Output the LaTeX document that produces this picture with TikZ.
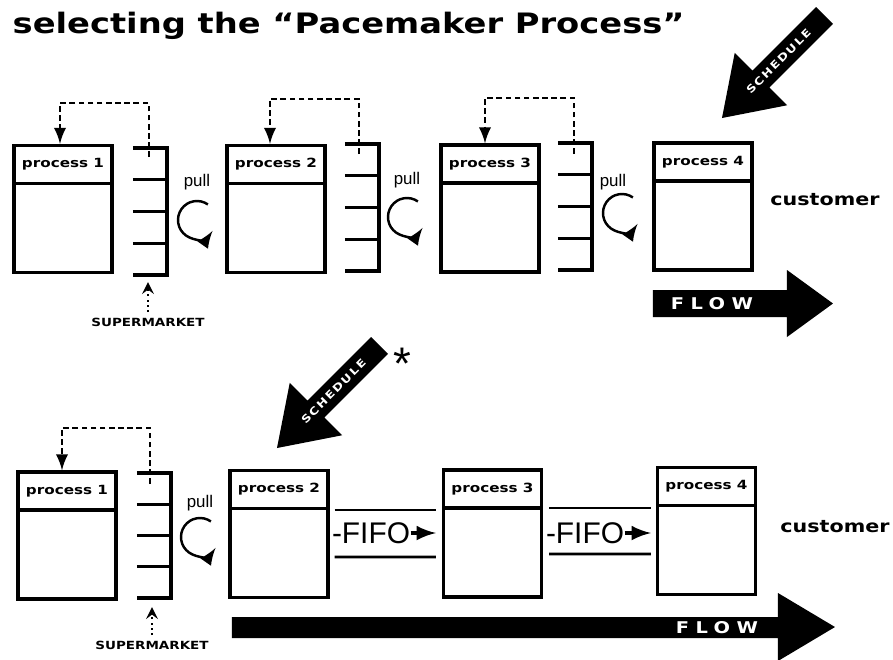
\documentclass[tikz,border=0pt]{standalone}
\usepackage{fontspec}
\setmainfont{Liberation Sans}
\newfontfamily\blackfont{DejaVu Sans}[FakeStretch=1.2]
\usetikzlibrary{arrows}

\begin{document}
\begin{tikzpicture}[x=0.1mm, y=-0.1mm,
    proc/.style={draw, line width=0.9pt, minimum width=9.8mm, minimum height=12.7mm},
    prochead/.style={draw, line width=0.9pt, minimum width=9.8mm, minimum height=3.8mm, inner sep=0pt,
      font=\blackfont\bfseries\fontsize{3.6}{4}\selectfont},
    market/.style={line width=0.9pt},
    kanban/.style={line width=0.6pt, dash pattern=on 1.6pt off 1pt, -latex},
    pullcirc/.style={line width=0.7pt, -latex},
    pulltxt/.style={inner sep=0pt, font=\fontsize{4.8}{5}\selectfont},
    mktlabel/.style={inner sep=0pt, font=\blackfont\bfseries\fontsize{3.2}{3.5}\selectfont},
    mktarrow/.style={line width=0.5pt, densely dotted, -stealth, shorten <=0.5mm, shorten >=0.9mm},
    custtxt/.style={inner sep=0pt, font=\blackfont\bfseries\fontsize{4.9}{5}\selectfont},
    flowtxt/.style={inner sep=0pt, text=white,
      font=\blackfont\bfseries\fontsize{4.6}{5}\selectfont\addfontfeature{LetterSpace=40}},
    schedtxt/.style={inner sep=0pt, text=white,
      font=\blackfont\bfseries\fontsize{3}{3}\selectfont\addfontfeature{LetterSpace=15}},
    lane/.style={line width=0.8pt},
    fifo/.style={inner sep=0pt, font=\fontsize{8.5}{9}\selectfont},
    fifoarr/.style={line width=0.9pt, -latex}
  ]
  \useasboundingbox (0,0) rectangle (893,659);

  % Title
  \node[anchor=base west, inner sep=0pt, font=\blackfont\bfseries\fontsize{8}{9}\selectfont]
    (title) at (12,33) {selecting the “Pacemaker Process”};

  % Top row: processes
  \node[proc] (p1) at (63,209) {};
  \node[prochead, anchor=north] (p1h) at (p1.north) {process 1};
  \node[proc] (p2) at (276,209) {};
  \node[prochead, anchor=north] (p2h) at (p2.north) {process 2};
  \node[proc] (p3) at (490,208.5) {};
  \node[prochead, anchor=north] (p3h) at (p3.north) {process 3};
  \node[proc] (p4) at (703,206.5) {};
  \node[prochead, anchor=north] (p4h) at (p4.north) {process 4};

  % Top row: supermarkets
  \foreach \x/\y in {133/148, 345/144, 558/143} {
    \draw[market] (\x,\y) -- ++(34,0) -- ++(0,127) -- ++(-34,0);
    \foreach \k in {1,2,3}
      \draw[market] (\x,{\y+31.75*\k}) -- ++(34,0);
  }

  % Kanban loops
  \coordinate (k1) at (149,157);
  \coordinate (k2) at (359,154);
  \coordinate (k3) at (574,154);
  \draw[kanban] (k1) -- ++(0,-54) -| ([xshift=-0.3mm]p1h.north);
  \draw[kanban] (k2) -- ++(0,-55) -| ([xshift=-0.6mm]p2h.north);
  \draw[kanban] (k3) -- ++(0,-56) -| ([xshift=-0.5mm]p3h.north);

  % Pull signs
  \node[pulltxt] (pull1) at (197,182) {pull};
  \node[pulltxt] (pull2) at (407,180) {pull};
  \node[pulltxt] (pull3) at (613,182) {pull};
  \coordinate (c1) at (197,220);
  \coordinate (c2) at (407,217);
  \coordinate (c3) at (622,213);
  \foreach \c in {c1,c2,c3}
    \draw[pullcirc] ([shift={(55:1.9mm)}]\c) arc[start angle=55, end angle=325, radius=1.9mm];

  % Supermarket label
  \node[mktlabel] (ml1) at (148,322) {SUPERMARKET};
  \coordinate (sm1) at (148,273);
  \draw[mktarrow] (ml1.north) -- (sm1);

  \node[custtxt] (cust1) at (825,200) {customer};

  % Flow and schedule
  \fill (653,290) -- (787,290) -- (787,270) -- (833,303.5) -- (787,337) -- (787,317) -- (653,317) -- cycle;
  \node[flowtxt] (flow1) at (712,304) {FLOW};
  \begin{scope}[shift={(722,118)}, rotate=45]
    \fill (0,0) -- (55,37) -- (55,12) -- (145,12) -- (145,-12) -- (55,-12) -- (55,-37) -- cycle;
    \node[schedtxt, rotate=45] (sched1) at (80,0) {SCHEDULE};
  \end{scope}

  % Bottom row: processes
  \node[proc] (q1) at (67,535.5) {};
  \node[prochead, anchor=north] (q1h) at (q1.north) {process 1};
  \node[proc] (q2) at (279,534) {};
  \node[prochead, anchor=north] (q2h) at (q2.north) {process 2};
  \node[proc] (q3) at (492.5,533.5) {};
  \node[prochead, anchor=north] (q3h) at (q3.north) {process 3};
  \node[proc] (q4) at (706.5,531) {};
  \node[prochead, anchor=north] (q4h) at (q4.north) {process 4};

  % Bottom row: supermarket
  \draw[market] (137,473) -- ++(34,0) -- ++(0,125) -- ++(-34,0);
  \foreach \k in {1,2,3}
    \draw[market] (137,{473+31.25*\k}) -- ++(34,0);
  \coordinate (k4) at (150,484);
  \draw[kanban] (k4) -- ++(0,-56) -| ([xshift=-0.5mm]q1h.north);

  \node[pulltxt] (pull4) at (200,503) {pull};
  \coordinate (c4) at (200,537);
  \draw[pullcirc] ([shift={(55:1.9mm)}]c4) arc[start angle=55, end angle=325, radius=1.9mm];

  \node[mktlabel] (ml2) at (152,645) {SUPERMARKET};
  \coordinate (sm2) at (152,598);
  \draw[mktarrow] (ml2.north) -- (sm2);

  % FIFO lanes
  \draw[lane] ([shift={(5,-24)}]q2.east) -- ([shift={(-6,-23.5)}]q3.west);
  \draw[lane] ([shift={(5,23)}]q2.east) -- ([shift={(-6,23.5)}]q3.west);
  \draw[lane] ([shift={(6,-25.5)}]q3.east) -- ([shift={(-5,-23)}]q4.west);
  \draw[lane] ([shift={(6,20.5)}]q3.east) -- ([shift={(-5,23)}]q4.west);
  \node[fifo] (f1) at (371,533) {-FIFO};
  \node[fifo] (f2) at (585,533) {-FIFO};
  \draw[fifoarr, shorten >=0.6mm] (f1.east) -- (q3.west |- f1.east);
  \draw[fifoarr, shorten >=0.5mm] (f2.east) -- (q4.west |- f2.east);

  \node[custtxt] (cust2) at (835,527) {customer};

  \fill (232,617) -- (778,617) -- (778,593) -- (835,627) -- (778,661) -- (778,638) -- (232,638) -- cycle;
  \node[flowtxt] (flow2) at (717,628) {FLOW};
  \begin{scope}[shift={(277,448)}, rotate=45]
    \fill (0,0) -- (55,37) -- (55,12) -- (145,12) -- (145,-12) -- (55,-12) -- (55,-37) -- cycle;
    \node[schedtxt, rotate=45] (sched2) at (80,0) {SCHEDULE};
  \end{scope}
  \node[anchor=north, inner sep=0pt, font=\fontsize{13}{13}\selectfont] (ast) at (402,347) {*};

\end{tikzpicture}
\end{document}
